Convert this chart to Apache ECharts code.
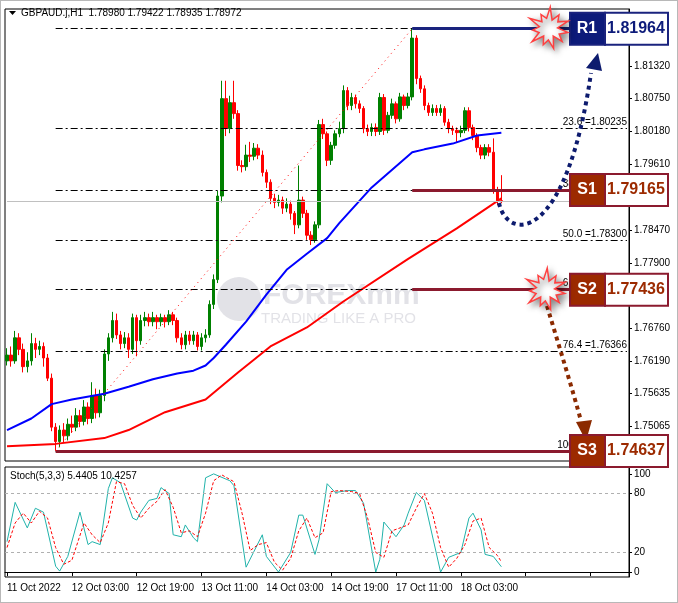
<!DOCTYPE html>
<html><head><meta charset="utf-8">
<script src="https://cdn.jsdelivr.net/npm/echarts@6/dist/echarts.min.js"></script>
<style>html,body{margin:0;padding:0;background:#fff}#c{width:678px;height:603px;box-sizing:border-box;border:1px solid #b8b8b8}</style>
</head><body><div id="c"></div>
<script>
// ---------- DATA ----------
const timeLabels = ['11 Oct 2022','12 Oct 03:00','12 Oct 19:00','13 Oct 11:00','14 Oct 03:00','14 Oct 19:00','17 Oct 11:00','18 Oct 03:00'];
const firstOpen = 1.7620;
const closes = [1.7630,1.7620,1.7660,1.7640,1.7610,1.7620,1.7650,1.7640,1.7645,1.7625,1.7590,1.7505,1.7480,1.7500,1.7490,1.7510,1.7505,1.7525,1.7515,1.7540,
1.7520,1.7560,1.7530,1.7560,1.7632,1.7660,1.7690,1.7665,1.7650,1.7660,1.7640,1.7695,1.7655,1.7690,1.7695,1.7688,1.7695,1.7688,1.7695,1.7688,
1.7700,1.7690,1.7660,1.7648,1.7665,1.7655,1.7665,1.7645,1.7660,1.7665,1.7718,1.7761,1.7906,1.8075,1.8023,1.8068,1.8049,1.7959,1.7957,1.7977,
1.7975,1.7989,1.7977,1.7947,1.7930,1.7902,1.7895,1.7899,1.7885,1.7892,1.7876,1.7856,1.7899,1.7876,1.7838,1.7830,1.7856,1.8030,1.8014,1.7968,
1.7994,1.8014,1.8023,1.8089,1.8063,1.8077,1.8066,1.8058,1.8023,1.8018,1.8025,1.8018,1.8077,1.8020,1.8046,1.8066,1.8040,1.8078,1.8063,1.8078,
1.8180,1.8110,1.8092,1.8063,1.8051,1.8058,1.8051,1.8058,1.8034,1.8023,1.8020,1.8016,1.8020,1.8054,1.8025,1.8011,1.7990,1.7977,1.7990,1.7982,
1.7916,1.7898,1.78972];
const highs = [1.7642,1.7645,1.7672,1.7668,1.7650,1.7635,1.7668,1.7660,1.7655,1.7652,1.7632,1.7598,1.7512,1.7508,1.7512,1.7520,1.7525,1.7538,1.7535,1.7552,
1.7548,1.7583,1.7572,1.7570,1.7640,1.7668,1.7705,1.7702,1.7672,1.7670,1.7668,1.7702,1.7700,1.7700,1.7705,1.7702,1.7705,1.7700,1.7702,1.7700,
1.7708,1.7705,1.7695,1.7668,1.7672,1.7672,1.7672,1.7670,1.7668,1.7675,1.7725,1.7770,1.7915,1.8106,1.8106,1.8080,1.8106,1.8055,1.7968,1.7995,
1.8000,1.7998,1.7996,1.7985,1.7952,1.7935,1.7910,1.7908,1.7905,1.7902,1.7898,1.7880,1.7959,1.7905,1.7882,1.7845,1.7862,1.8038,1.8040,1.8018,
1.8000,1.8020,1.8035,1.8098,1.8095,1.8085,1.8082,1.8072,1.8062,1.8030,1.8032,1.8032,1.8085,1.8083,1.8052,1.8075,1.8070,1.8085,1.8082,1.8085,
1.81964,1.8185,1.8115,1.8098,1.8068,1.8065,1.8064,1.8065,1.8062,1.8040,1.8028,1.8025,1.8028,1.8060,1.8060,1.8030,1.8015,1.7995,1.7996,1.7996,
1.8006,1.7922,1.79422];
const lows = [1.7612,1.7610,1.7615,1.7630,1.7600,1.7600,1.7612,1.7625,1.7630,1.7610,1.7585,1.7498,1.7464,1.7470,1.7478,1.7482,1.7495,1.7498,1.7505,1.7508,
1.7510,1.7512,1.7520,1.7522,1.7550,1.7620,1.7652,1.7658,1.7640,1.7642,1.7625,1.7632,1.7628,1.7648,1.7680,1.7680,1.7680,1.7675,1.7680,1.7678,
1.7682,1.7682,1.7652,1.7640,1.7640,1.7648,1.7648,1.7638,1.7638,1.7652,1.7660,1.7710,1.7755,1.7895,1.8010,1.8015,1.8040,1.7950,1.7947,1.7950,
1.7965,1.7968,1.7970,1.7940,1.7920,1.7892,1.7885,1.7888,1.7875,1.7878,1.7865,1.7840,1.7850,1.7868,1.7830,1.7821,1.7825,1.7850,1.8005,1.7958,
1.7960,1.7988,1.8008,1.8015,1.8055,1.8055,1.8058,1.8050,1.8015,1.8010,1.8010,1.8010,1.8012,1.8012,1.8015,1.8040,1.8032,1.8035,1.8055,1.8058,
1.8072,1.8100,1.8085,1.8055,1.8045,1.8045,1.8045,1.8045,1.8028,1.8015,1.8012,1.7999,1.8008,1.8015,1.8018,1.8003,1.7982,1.7970,1.7970,1.7975,
1.7910,1.7890,1.78935];
const lastOpen = 1.78980;
const maBlue = [[0,1.7500],[6,1.7520],[11,1.7545],[16,1.7553],[24,1.7563],[30,1.7575],[36,1.7588],[42,1.7598],[46,1.7603],[49,1.7612],[51,1.7625],[54,1.7648],[59,1.7688],[64,1.7735],[69,1.7778],[74,1.7806],[79,1.7833],[82,1.7859],[90,1.7921],[100,1.7982],[103,1.7987],[110,1.7997],[116,1.8011],[122,1.8016]];
const maRed = [[0,1.7472],[12,1.7476],[24,1.7486],[30,1.7500],[39,1.7531],[49,1.7553],[57,1.7600],[65,1.7645],[74,1.7678],[83,1.7723],[99,1.7797],[111,1.7850],[122,1.7902]];
const stochK = [[0,31],[2,71],[5,45],[7,65],[9,61],[12,6],[13,1],[15,16],[18,61],[20,28],[21,31],[23,28],[25,85],[26,96],[28,91],[31,55],[32,53],[33,61],[35,73],[37,75],[38,86],[40,80],[41,38],[43,36],[44,48],[46,35],[47,31],[49,96],[51,100],[55,93],[56,88],[59,5],[63,38],[64,16],[67,0],[70,20],[72,58],[73,58],[76,18],[77,33],[79,90],[81,81],[84,83],[86,83],[88,70],[91,0],[92,13],[93,51],[96,36],[98,48],[99,60],[101,81],[103,73],[107,0],[109,15],[112,20],[114,55],[115,60],[117,43],[118,18],[120,16],[122,5.4405]];
const stochD = [[0,25],[2,50],[4,60],[6,50],[8,62],[10,55],[12,25],[14,8],[16,12],[19,50],[21,38],[23,30],[25,50],[27,92],[29,90],[31,68],[33,55],[35,65],[37,72],[39,84],[41,66],[43,40],[45,42],[47,36],[49,60],[51,93],[53,99],[56,92],[58,60],[60,22],[62,28],[64,30],[66,10],[68,2],[70,14],[72,42],[74,55],[76,35],[78,40],[80,82],[82,83],[85,82],[87,80],[89,55],[91,20],[93,15],[95,42],[97,45],[99,48],[101,65],[103,80],[105,60],[107,25],[109,5],[111,14],[113,28],[115,52],[117,55],[119,25],[121,17],[122,10.4257]];
const priceTicks = [1.81320,1.80750,1.80180,1.79610,1.78470,1.77900,1.76760,1.76190,1.75635,1.75065];
const stochTicks = [0,20,80,100];
const fibLevels = [['0.0',1.81964],['23.6',1.80235],['38.2',1.79165],['50.0',1.78300],['61.8',1.77436],['76.4',1.76366],['100.0',1.74637]];
const levels = [['R1',1.81964,100],['S1',1.79165,100],['S2',1.77436,100],['S3',1.74637,12]];
const fibStart = [12,1.74637], fibEnd = [100,1.81964];
const lastPrice = 1.78972;
const totalSlots = 154;
// ---------- BUILD ----------
const cats = Array.from({length: totalSlots}, (_, i) => i);
const candles = closes.map((c, i) => {
  const o = i === 0 ? firstOpen : (i === closes.length - 1 ? lastOpen : closes[i - 1]);
  return [o, c, lows[i], highs[i]];
});
const FONT = 'Liberation Sans';
const chart = echarts.init(document.getElementById('c'));
const fibLines = fibLevels.map(([p, v]) => [
  {coord: [fibStart[0], v], label: {show: true, position: 'insideEndTop', formatter: p + ' =' + v.toFixed(5), color: '#000', fontSize: 10, fontFamily: FONT, distance: [0, 1]}},
  {coord: [totalSlots - 1, v]}
]);
const lvlLines = levels.map(([n, v, s]) => [
  {coord: [s, v], lineStyle: {color: n === 'R1' ? '#1a237e' : '#8b1a2e', width: 3, type: 'solid'}, label: {show: false}},
  {coord: [totalSlots - 1, v]}
]);
chart.setOption({
  animation: false,
  grid: [
    {left: 4, right: 48, top: 8, bottom: 141, show: true, borderColor: '#000', borderWidth: 1},
    {left: 4, right: 48, top: 466, bottom: 25, show: true, borderColor: '#000', borderWidth: 1}
  ],
  xAxis: [
    {type: 'category', data: cats, gridIndex: 0, boundaryGap: true, axisLine: {show: false}, axisTick: {show: false}, axisLabel: {show: false}},
    {type: 'category', data: cats, gridIndex: 1, boundaryGap: true, axisLine: {lineStyle: {color: '#000'}},
     axisTick: {show: true, interval: 15, length: 4, lineStyle: {color: '#000'}, alignWithLabel: true},
     axisLabel: {interval: 15, align: 'left', color: '#000', fontSize: 10, fontFamily: FONT, margin: 6,
       formatter: (v) => { const k = v / 16; return (v % 16 === 0 && k < timeLabels.length) ? timeLabels[k] : ''; }}}
  ],
  yAxis: [
    {type: 'value', gridIndex: 0, position: 'right', min: 1.74463, max: 1.82305, splitLine: {show: false},
     axisLine: {show: true, lineStyle: {color: '#000'}}, axisTick: {show: true, length: 3, customValues: priceTicks},
     axisLabel: {customValues: priceTicks, formatter: v => v.toFixed(5), color: '#000', fontSize: 10, fontFamily: FONT, margin: 5}},
    {type: 'value', gridIndex: 1, position: 'right', min: -5, max: 107, splitLine: {show: false},
     axisLine: {show: true, lineStyle: {color: '#000'}}, axisTick: {show: true, length: 3, customValues: stochTicks},
     axisLabel: {customValues: stochTicks, color: '#000', fontSize: 10, fontFamily: FONT, margin: 5}}
  ],
  series: [
    {type: 'candlestick', xAxisIndex: 0, yAxisIndex: 0, data: candles, barWidth: 3,
     itemStyle: {color: '#008000', color0: '#ff0000', borderColor: '#008000', borderColor0: '#ff0000', borderWidth: 1},
     markLine: {silent: true, symbol: ['none', 'none'], animation: false,
       lineStyle: {color: '#000', width: 1, type: [7, 3, 2, 3]},
       data: fibLines.concat(lvlLines).concat([
         [{coord: fibStart, lineStyle: {color: '#ff0000', type: [1, 4], width: 1}, label: {show: false}}, {coord: fibEnd}],
         [{coord: [0, lastPrice], lineStyle: {color: '#c0c0c0', type: 'solid', width: 1}, label: {show: false}}, {coord: [totalSlots - 1, lastPrice]}]
       ])}},
    {type: 'line', xAxisIndex: 0, yAxisIndex: 0, data: maBlue, showSymbol: false, lineStyle: {color: '#0000ff', width: 2}, z: 3},
    {type: 'line', xAxisIndex: 0, yAxisIndex: 0, data: maRed, showSymbol: false, lineStyle: {color: '#ff0000', width: 2}, z: 3},
    {type: 'line', xAxisIndex: 1, yAxisIndex: 1, data: stochK, showSymbol: false, lineStyle: {color: '#20b2aa', width: 1},
     markLine: {silent: true, symbol: ['none', 'none'], label: {show: false}, lineStyle: {color: '#b0b0b0', type: [3, 3], width: 1}, data: [{yAxis: 20}, {yAxis: 80}]}},
    {type: 'line', xAxisIndex: 1, yAxisIndex: 1, data: stochD, showSymbol: false, lineStyle: {color: '#ff0000', width: 1, type: [3, 2]}}
  ]
});

// ---------- ANNOTATIONS ----------
function star(cx, cy, r1, r2, n) {
  const pts = [];
  for (let i = 0; i < n * 2; i++) {
    const a = Math.PI * i / n + 0.2, r = (i % 2 === 0 ? r1 : r2) * (1 + 0.15 * Math.sin(i * 1.7));
    pts.push([cx + r * Math.cos(a), cy + r * Math.sin(a)]);
  }
  return pts;
}
const g = [];
levels.forEach(([n, v]) => {
  const y = chart.convertToPixel({yAxisIndex: 0}, v);
  const isR = n === 'R1';
  const dark = isR ? '#0d1b7a' : '#9c2a00', border = isR ? '#1a237e' : '#8b1a2e';
  g.push({type: 'rect', z: 100, shape: {x: 569, y: y - 16, width: 35, height: 32}, style: {fill: dark, stroke: border, lineWidth: 2}});
  g.push({type: 'rect', z: 100, shape: {x: 604, y: y - 16, width: 63, height: 32}, style: {fill: '#fff', stroke: border, lineWidth: 2}});
  g.push({type: 'text', z: 101, x: 586, y: y, style: {text: n, fill: '#fff', font: 'bold 16px "Liberation Sans"', align: 'center', verticalAlign: 'middle'}});
  g.push({type: 'text', z: 101, x: 635, y: y, style: {text: v.toFixed(5), fill: dark, font: 'bold 16px "Liberation Sans"', align: 'center', verticalAlign: 'middle'}});
});
const yR1 = chart.convertToPixel({yAxisIndex: 0}, 1.81964), yS2 = chart.convertToPixel({yAxisIndex: 0}, 1.77436);
[[548, yR1], [545, yS2]].forEach(([cx, cy]) => {
  g.push({type: 'polygon', z: 102, shape: {points: star(cx, cy, 19, 10, 11)},
    style: {fill: '#fff', stroke: '#ff4040', lineWidth: 1.5, shadowBlur: 6, shadowColor: 'rgba(0,0,0,0.45)', shadowOffsetX: 3, shadowOffsetY: 3}});
});
g.push({type: 'bezierCurve', z: 99, shape: {x1: 498, y1: 202, cpx1: 506, cpy1: 240, cpx2: 565, cpy2: 245, x2: 590, y2: 72},
  style: {stroke: '#0d1b6e', lineWidth: 4, lineDash: [4, 4], fill: null}});
g.push({type: 'polygon', z: 99, shape: {points: [[597, 52], [585, 67], [601, 70]]}, style: {fill: '#0d1b6e'}});
g.push({type: 'bezierCurve', z: 99, shape: {x1: 546, y1: 305, cpx1: 558, cpy1: 345, cpx2: 572, cpy2: 390, x2: 580, y2: 420},
  style: {stroke: '#8b2a00', lineWidth: 4, lineDash: [4, 4], fill: null}});
g.push({type: 'polygon', z: 99, shape: {points: [[585, 440], [575, 421], [591, 419]]}, style: {fill: '#8b2a00'}});
g.push({type: 'circle', z: 1, shape: {cx: 238, cy: 298, r: 22}, style: {fill: 'rgba(150,150,170,0.28)'}});
g.push({type: 'text', z: 1, x: 262, y: 280, style: {text: 'FOREXmm', fill: 'rgba(150,150,170,0.28)', font: 'bold 30px "Liberation Sans"'}});
g.push({type: 'text', z: 1, x: 260, y: 310, style: {text: 'TRADING LIKE A PRO', fill: 'rgba(150,150,170,0.28)', font: '15px "Liberation Sans"'}});
g.push({type: 'polygon', z: 100, shape: {points: [[8, 10], [15, 10], [11.5, 14]]}, style: {fill: '#000'}});
g.push({type: 'text', z: 100, x: 20, y: 7, style: {text: 'GBPAUD.j,H1  1.78980 1.79422 1.78935 1.78972', fill: '#000', font: '10px "Liberation Sans"'}});
g.push({type: 'text', z: 100, x: 9, y: 470, style: {text: 'Stoch(5,3,3) 5.4405 10.4257', fill: '#000', font: '10px "Liberation Sans"'}});
chart.setOption({graphic: g});
</script></body></html>
